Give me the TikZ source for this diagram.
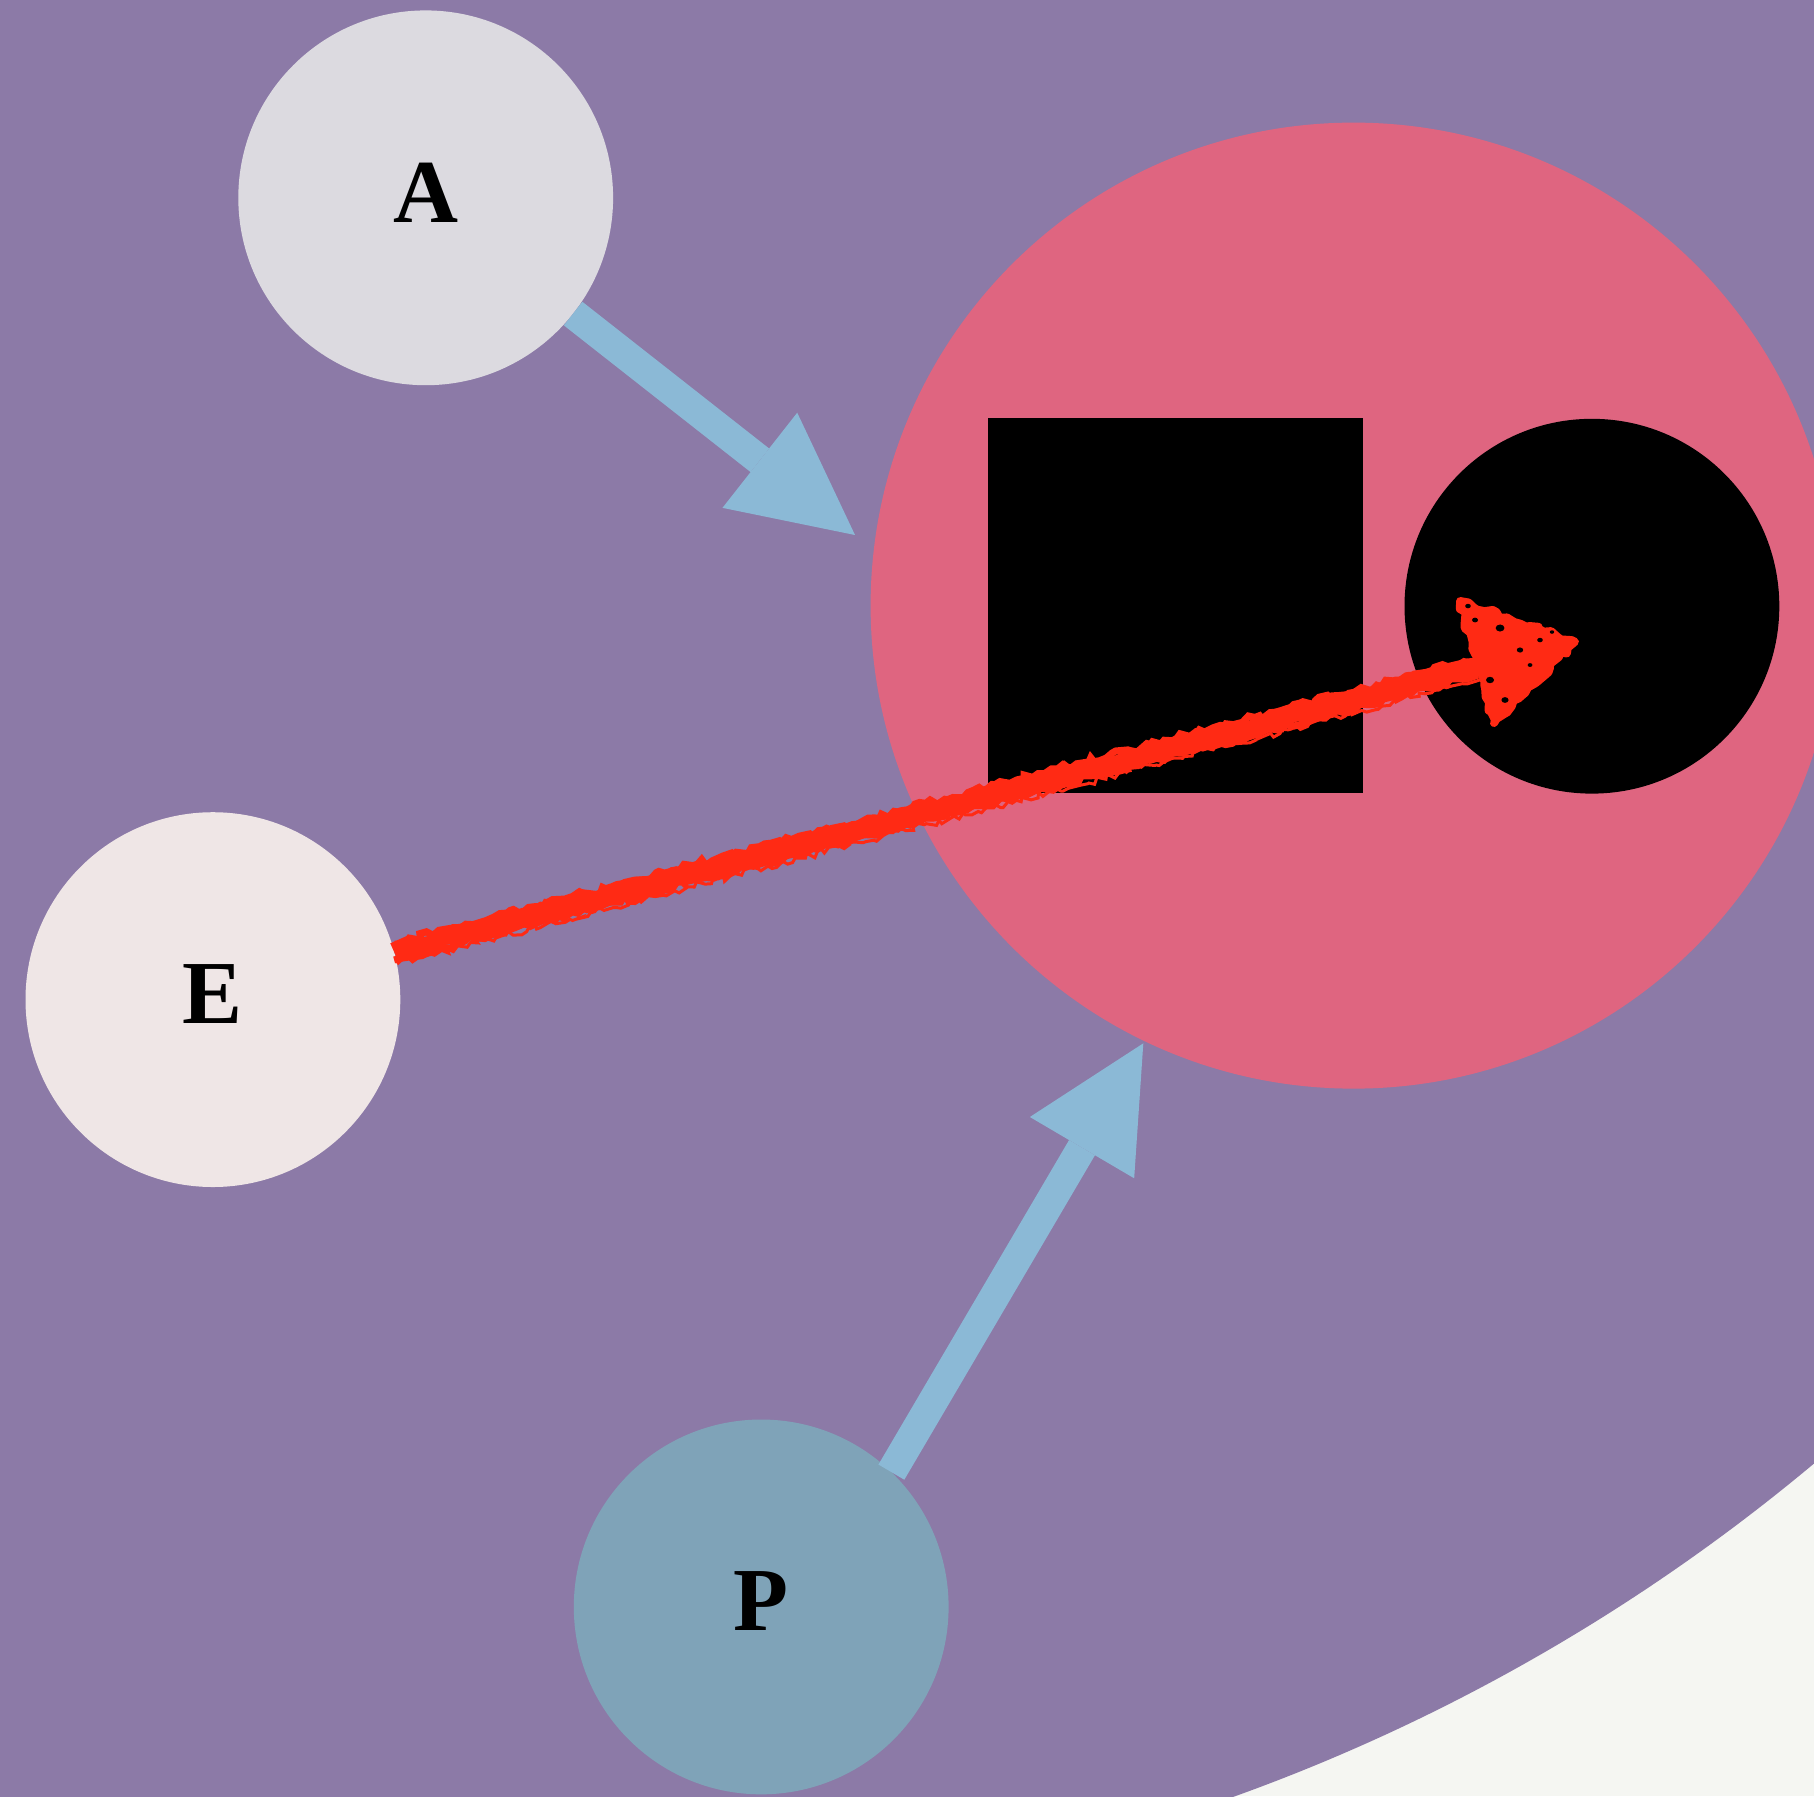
\documentclass[tikz,border=0pt]{standalone}
\usepackage{fontspec}
\setmainfont{Liberation Serif}
\usetikzlibrary{arrows.meta,decorations.pathmorphing}

\definecolor{paper}{HTML}{F5F6F2}
\definecolor{plum}{HTML}{8C7AA7}
\definecolor{mistA}{HTML}{DCDAE0}
\definecolor{blushE}{HTML}{EFE6E6}
\definecolor{steelP}{HTML}{7FA3B8}
\definecolor{rose}{HTML}{DF6580}
\definecolor{skyarrow}{HTML}{8BB9D6}
\definecolor{flame}{HTML}{FF2A14}

\begin{document}
\begin{tikzpicture}[x=0.5pt,y=-0.5pt,
  disc/.style={circle, minimum size=187.4pt, inner sep=0pt, outer sep=0pt,
    font=\fontsize{45}{45}\selectfont\bfseries, text depth=5.5pt},
  flow/.style={draw=skyarrow, line width=15pt,
    -{Triangle[length=60.5pt,width=60.5pt,line width=0pt]}},
  rough/.style={draw=flame, decorate,
    decoration={random steps, segment length=#1, amplitude=1.8pt}},
  rough/.default=5pt
]
\pgfmathsetseed{4217}
\useasboundingbox (0,0) rectangle (1814,1796);
\clip (0,0) rectangle (1814,1796);

% backdrop
\fill[paper] (0,0) rectangle (1814,1796);
\fill[plum] (586,-6) circle[radius=957.5pt];

% central group
\node[circle, fill=rose, minimum size=483pt, inner sep=0pt, outer sep=0pt] (hub) at (1353.6,605.6) {};
\node[rectangle, fill=black, minimum size=187.5pt, inner sep=0pt, outer sep=0pt] (box) at (1175.4,605.6) {};
\node[circle, fill=black, minimum size=187.4pt, inner sep=0pt, outer sep=0pt] (dot) at (1591.9,606.2) {};

% outer nodes
\node[disc, fill=mistA] (A) at (425.7,197.8) {A};
\node[disc, fill=blushE] (E) at (212.9,999.6) {E};
\node[disc, fill=steelP] (P) at (761.2,1606.9) {P};

% blue connectors
\coordinate (tipA) at (855,535);
\coordinate (tipP) at (1143.3,1043.3);
\draw[flow] (A) -- (tipA);
\draw[flow] (P.46.6) -- (tipP);

% sketchy red connector
\coordinate (redtip) at (1575,641.7);
\coordinate (redback) at (1478,667);
\coordinate (redup) at (1460,601);
\coordinate (redlow) at (1494,723);
\draw[rough=5pt, line width=9.5pt] (E) -- (redback);
\begin{scope}[transform canvas={yshift=4pt}]
  \draw[rough=3pt, line width=3.5pt] (E) -- (redback);
\end{scope}
\begin{scope}[transform canvas={yshift=-4pt}]
  \draw[rough=4pt, line width=3.5pt] (E) -- (redback);
\end{scope}
\begin{scope}[transform canvas={xshift=1.5pt,yshift=-6pt}]
  \draw[rough=2.5pt, line width=1.5pt] (E) -- (redback);
\end{scope}
\filldraw[flame, line width=4pt, line join=round, decorate,
  decoration={random steps, segment length=3pt, amplitude=1.4pt}]
  (redtip) -- (redup) -- (redback) -- (redlow) -- cycle;
\foreach \px/\py/\s in {1500/628/2.2, 1520/650/1.6, 1490/680/2.0, 1540/640/1.4,
                        1475/620/1.5, 1505/700/1.8, 1530/665/1.2, 1482/705/1.3,
                        1468/606/1.4, 1552/632/1.1}
  \fill[black] (\px,\py) ellipse[x radius=\s pt, y radius=0.8*\s pt];
\end{tikzpicture}
\end{document}
